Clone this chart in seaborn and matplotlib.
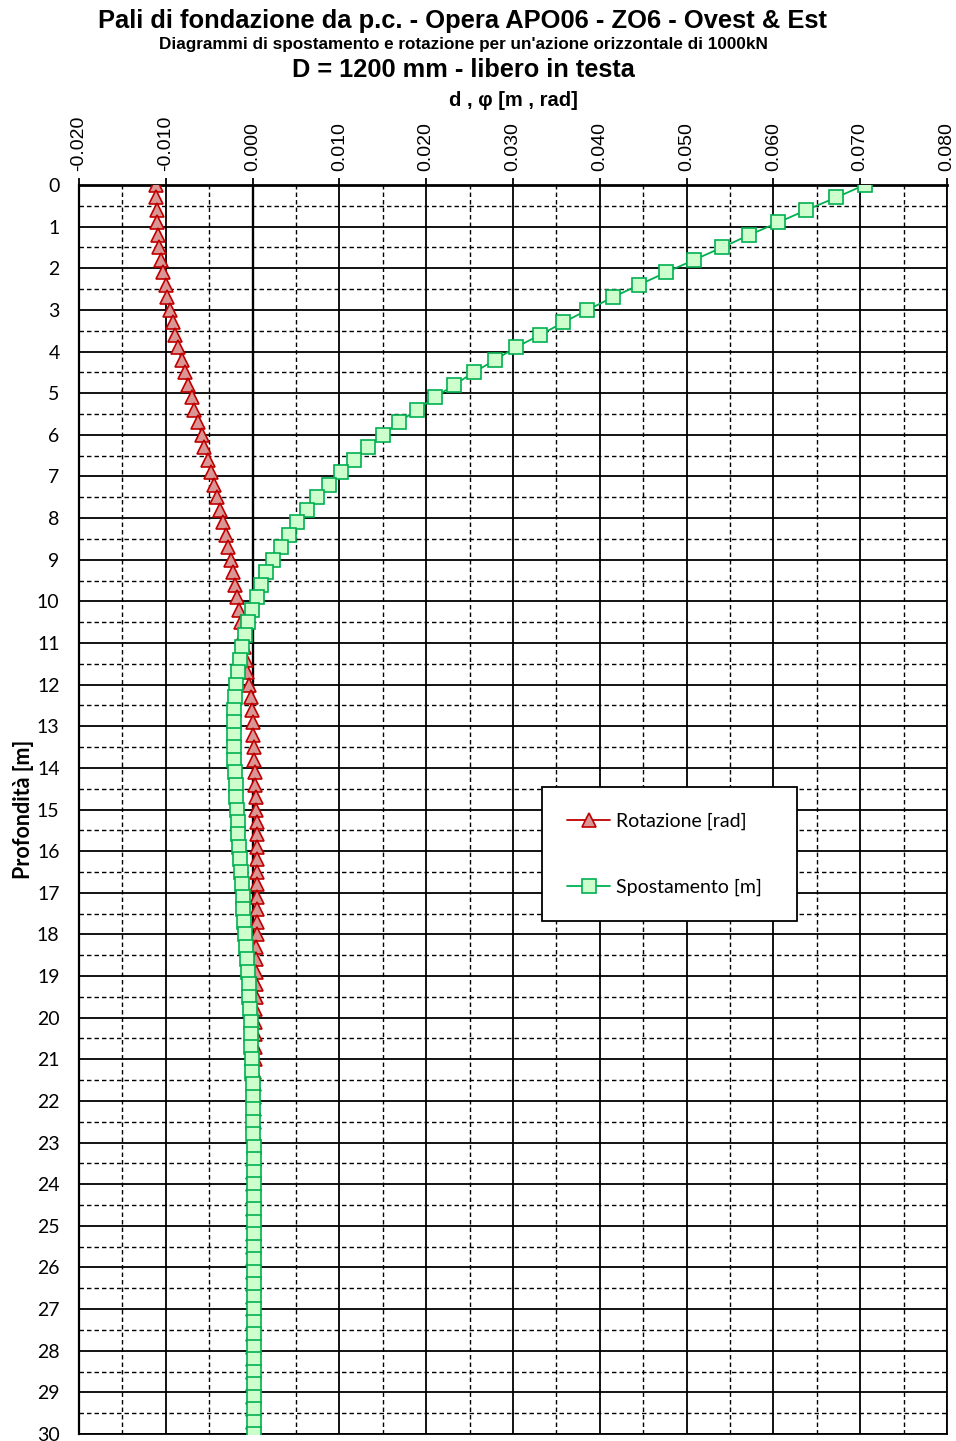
import numpy as np
import pandas as pd
import matplotlib
matplotlib.use("Agg")
import matplotlib.pyplot as plt
from matplotlib import font_manager as fm
from matplotlib.ticker import MultipleLocator, FormatStrFormatter
from matplotlib.lines import Line2D
import seaborn as sns

# Depth along the pile [m]
profondita = [
    0.0, 0.3, 0.6, 0.9, 1.2, 1.5, 1.8, 2.1, 2.4, 2.7,
    3.0, 3.3, 3.6, 3.9, 4.2, 4.5, 4.8, 5.1, 5.4, 5.7,
    6.0, 6.3, 6.6, 6.9, 7.2, 7.5, 7.8, 8.1, 8.4, 8.7,
    9.0, 9.3, 9.6, 9.9, 10.2, 10.5, 10.8, 11.1, 11.4, 11.7,
    12.0, 12.3, 12.6, 12.9, 13.2, 13.5, 13.8, 14.1, 14.4, 14.7,
    15.0, 15.3, 15.6, 15.9, 16.2, 16.5, 16.8, 17.1, 17.4, 17.7,
    18.0, 18.3, 18.6, 18.9, 19.2, 19.5, 19.8, 20.1, 20.4, 20.7,
    21.0, 21.3, 21.6, 21.9, 22.2, 22.5, 22.8, 23.1, 23.4, 23.7,
    24.0, 24.3, 24.6, 24.9, 25.2, 25.5, 25.8, 26.1, 26.4, 26.7,
    27.0, 27.3, 27.6, 27.9, 28.2, 28.5, 28.8, 29.1, 29.4, 29.7,
    30.0,
]

# Rotation [mrad]
rotazione_mrad = [
    -11.17, -11.09, -11.05, -10.97, -10.86, -10.74, -10.56, -10.28, -10.01, -9.82,
    -9.52, -9.21, -8.94, -8.60, -8.17, -7.82, -7.44, -7.02, -6.70, -6.29,
    -5.86, -5.55, -5.14, -4.82, -4.48, -4.13, -3.75, -3.41, -3.09, -2.83,
    -2.52, -2.25, -1.98, -1.74, -1.56, -1.33, -1.13, -0.95, -0.77, -0.59,
    -0.40, -0.24, -0.09, -0.01, 0.06, 0.14, 0.17, 0.25, 0.33, 0.37,
    0.40, 0.45, 0.45, 0.48, 0.48, 0.48, 0.48, 0.47, 0.47, 0.46,
    0.45, 0.42, 0.40, 0.38, 0.36, 0.34, 0.32, 0.29, 0.27, 0.24,
    0.22, 0.20, 0.18, 0.16, 0.14, 0.13, 0.12, 0.11, 0.10, 0.10,
    0.10, 0.10, 0.10, 0.10, 0.09, 0.09, 0.09, 0.09, 0.09, 0.09,
    0.09, 0.09, 0.09, 0.08, 0.08, 0.08, 0.08, 0.08, 0.08, 0.08,
    0.08,
]

# Horizontal displacement [mm]
spostamento_mm = [
    70.50, 67.23, 63.81, 60.54, 57.23, 54.08, 50.85, 47.62, 44.51, 41.47,
    38.58, 35.81, 33.13, 30.32, 27.94, 25.51, 23.21, 21.01, 18.90, 16.86,
    14.98, 13.25, 11.71, 10.17, 8.75, 7.46, 6.25, 5.16, 4.14, 3.25,
    2.36, 1.60, 0.98, 0.45, -0.06, -0.52, -0.90, -1.21, -1.48, -1.71,
    -1.90, -2.02, -2.13, -2.17, -2.15, -2.13, -2.09, -2.02, -1.94, -1.86,
    -1.79, -1.71, -1.63, -1.56, -1.44, -1.36, -1.27, -1.16, -1.07, -0.96,
    -0.84, -0.73, -0.63, -0.53, -0.46, -0.38, -0.30, -0.23, -0.18, -0.15,
    -0.09, -0.06, -0.01, 0.02, 0.06, 0.08, 0.10, 0.12, 0.13, 0.14,
    0.14, 0.14, 0.14, 0.14, 0.14, 0.14, 0.14, 0.14, 0.14, 0.14,
    0.14, 0.14, 0.14, 0.14, 0.14, 0.14, 0.14, 0.14, 0.14, 0.14,
    0.14,
]

x_ticks = [-0.020, -0.010, 0.000, 0.010, 0.020, 0.030, 0.040, 0.050, 0.060, 0.070, 0.080]
y_ticks = list(range(0, 31))

serie_rot = "Rotazione [rad]"
serie_spo = "Spostamento [m]"

df = pd.concat([
    pd.DataFrame({"profondita": profondita,
                  "valore": np.array(rotazione_mrad) / 1000.0,
                  "serie": serie_rot}),
    pd.DataFrame({"profondita": profondita,
                  "valore": np.array(spostamento_mm) / 1000.0,
                  "serie": serie_spo}),
], ignore_index=True)

sns.set_theme(style="white")

names = {f.name for f in fm.fontManager.ttflist}
narrow = "Liberation Sans Narrow" if "Liberation Sans Narrow" in names else "Liberation Sans"
plain = "Liberation Sans"
calibri_like = "Lato" if "Lato" in names else "DejaVu Sans"
plt.rcParams["font.family"] = [plain, "DejaVu Sans"]
plt.rcParams.update({
    "text.color": "black",
    "axes.labelcolor": "black",
    "xtick.color": "black",
    "ytick.color": "black",
})

W, H = 956, 1441
fig = plt.figure(figsize=(W / 100, H / 100), dpi=100)
L, R, T, B = 79, 947, 185, 1434
ax = fig.add_axes([L / W, (H - B) / H, (R - L) / W, (B - T) / H])

styles = {
    serie_rot: dict(color="#C00000", marker="^", ms=10.5, mfc="#DA9694", mec="#C00000"),
    serie_spo: dict(color="#00B050", marker="s", ms=9.6, mfc="#CCFFCC", mec="#00B050"),
}

for z, name in ((3, serie_rot), (4, serie_spo)):
    st = styles[name]
    sns.lineplot(data=df[df["serie"] == name], x="valore", y="profondita",
                 orient="y", estimator=None, sort=True, ax=ax,
                 color=st["color"], linewidth=1.3, marker=st["marker"],
                 markersize=st["ms"], markerfacecolor=st["mfc"],
                 markeredgecolor=st["mec"], markeredgewidth=1.2,
                 zorder=z, legend=False)

ax.set_xlim(-0.020, 0.080)
ax.set_ylim(30, 0)

ax.xaxis.set_major_locator(MultipleLocator(0.010))
ax.xaxis.set_minor_locator(MultipleLocator(0.005))
ax.yaxis.set_major_locator(MultipleLocator(1))
ax.yaxis.set_minor_locator(MultipleLocator(0.5))
ax.set_xticks(x_ticks)
ax.set_yticks(y_ticks)
ax.xaxis.set_major_formatter(FormatStrFormatter("%.3f"))

ax.grid(which="major", color="black", linewidth=1.3, linestyle="-", zorder=1)
ax.grid(which="minor", color="black", linewidth=1.0, linestyle=(0, (3.2, 2.2)), zorder=1)
ax.set_axisbelow(True)
ax.axvline(0.0, color="black", linewidth=1.7, zorder=2)

ax.xaxis.tick_top()
ax.xaxis.set_label_position("top")
ax.tick_params(axis="x", which="major", direction="out", length=5, width=1.3,
               color="black", labelcolor="black", labelrotation=90, labelsize=14, pad=5)
ax.tick_params(axis="x", which="minor", length=0)
ax.tick_params(axis="y", which="both", length=0, labelsize=14, pad=14,
               labelcolor="black")
for lab in ax.get_yticklabels():
    lab.set_fontfamily(calibri_like)

for side, lw in (("top", 2.0), ("left", 1.6), ("right", 1.3), ("bottom", 1.3)):
    ax.spines[side].set_visible(True)
    ax.spines[side].set_color("black")
    ax.spines[side].set_linewidth(lw)

ax.set_xlabel("d , φ [m , rad]", fontsize=14.5, fontweight="bold", color="black",
              family=[narrow, "DejaVu Sans"], labelpad=7)
ax.set_ylabel("Profondità [m]", fontsize=15.5, fontweight="bold", color="black",
              family=[calibri_like, "DejaVu Sans"], labelpad=2)

cx = 463 / W
fig.text(cx, 1 - 21 / H, "Pali di fondazione da p.c. - Opera APO06 - ZO6 - Ovest & Est",
         ha="center", va="center", fontsize=18.4, fontweight="bold", color="black",
         family=[narrow, "DejaVu Sans"])
fig.text(cx, 1 - 45 / H,
         "Diagrammi di spostamento e rotazione per un'azione orizzontale di 1000kN",
         ha="center", va="center", fontsize=12.3, fontweight="bold", color="black",
         family=[narrow, "DejaVu Sans"])
fig.text(cx, 1 - 70 / H, "D = 1200 mm - libero in testa",
         ha="center", va="center", fontsize=18.3, fontweight="bold", color="black",
         family=[narrow, "DejaVu Sans"])

handles = [
    Line2D([], [], color=styles[n]["color"], linewidth=1.3, marker=styles[n]["marker"],
           markersize=styles[n]["ms"], markerfacecolor=styles[n]["mfc"],
           markeredgecolor=styles[n]["mec"], markeredgewidth=1.2)
    for n in (serie_rot, serie_spo)
]
x0 = (542 - L) / (R - L)
x1 = (797 - L) / (R - L)
y0 = (B - 922) / (B - T)
y1 = (B - 786) / (B - T)
leg = ax.legend(handles, [serie_rot, serie_spo], loc="center",
                bbox_to_anchor=(x0, y0, x1 - x0, y1 - y0), mode="expand",
                prop={"family": calibri_like, "size": 14},
                frameon=True, fancybox=False, shadow=False, framealpha=1,
                edgecolor="black", borderpad=1.3, labelspacing=2.5,
                handlelength=2.2, handletextpad=0.3, borderaxespad=0)
leg.get_frame().set_linewidth(1.3)
for t in leg.get_texts():
    t.set_color("black")
leg.set_zorder(10)

fig.savefig("out.png", dpi=100)
